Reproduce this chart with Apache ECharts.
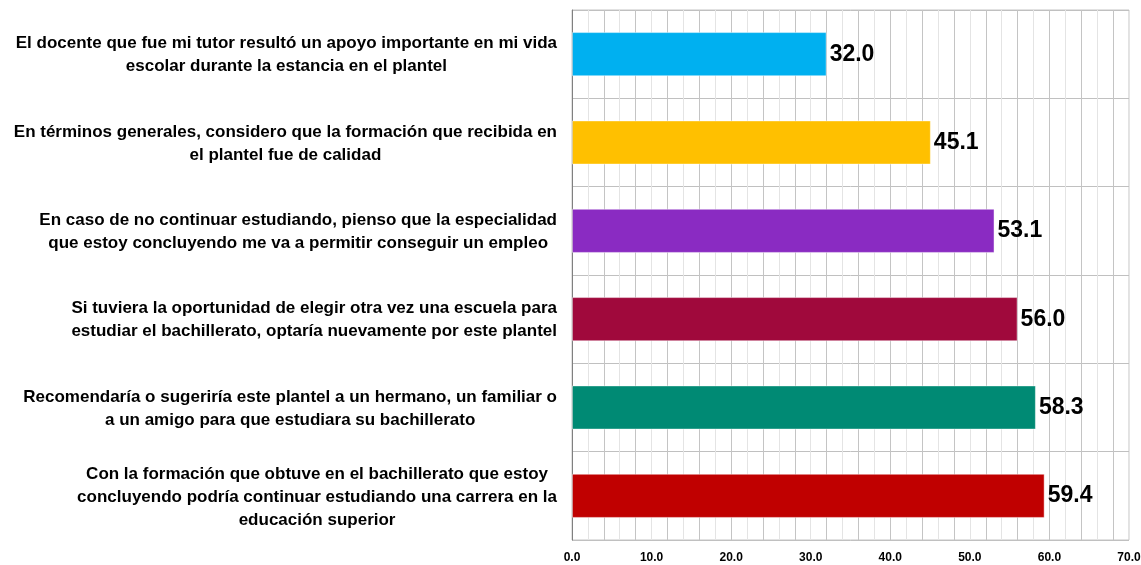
<!DOCTYPE html>
<html>
<head>
<meta charset="utf-8">
<script src="https://cdn.jsdelivr.net/npm/echarts@6/dist/echarts.min.js"></script>
<style>
  html, body { margin: 0; padding: 0; background: #fff; }
  #chart { width: 1141px; height: 565px; }
</style>
</head>
<body>
<div id="chart"></div>
<script>
const categories = [
  'El docente que fue mi tutor resultó un apoyo importante en mi vida\nescolar durante la estancia en el plantel',
  'En términos generales, considero que la formación que recibida en\nel plantel fue de calidad',
  'En caso de no continuar estudiando, pienso que la especialidad\nque estoy concluyendo me va a permitir conseguir un empleo',
  'Si tuviera la oportunidad de elegir otra vez una escuela para\nestudiar el bachillerato, optaría nuevamente por este plantel',
  'Recomendaría o sugeriría este plantel a un hermano, un familiar o\na un amigo para que estudiara su bachillerato',
  'Con la formación que obtuve en el bachillerato que estoy\nconcluyendo podría continuar estudiando una carrera en la\neducación superior'
]
const values = [32.0, 45.1, 53.1, 56.0, 58.3, 59.4]
const barColors = ['#00B0F0', '#FFC000', '#8A2BC2', '#A0093C', '#008A74', '#C00000']

const chart = echarts.init(document.getElementById('chart'))

chart.setOption({
  animation: false,
  grid: {
    left: 572, right: 12, top: 10, bottom: 25,
    outerBoundsMode: 'none',
    show: true, borderColor: '#c4c4c4', borderWidth: 1
  },
  xAxis: {
    type: 'value',
    min: 0,
    max: 70,
    interval: 2,
    axisLine: { show: false },
    axisTick: { show: false },
    splitLine: { lineStyle: { color: ['#c4c4c4', '#e4e4e4'], width: 1 } },
    axisLabel: {
      margin: 12,
      color: '#000',
      fontFamily: 'Liberation Sans',
      fontWeight: 'bold',
      fontSize: 12,
      formatter: (v) => (v % 10 === 0 ? v.toFixed(1) : '')
    }
  },
  yAxis: {
    type: 'category',
    inverse: true,
    data: categories,
    axisTick: { show: false },
    axisLine: { lineStyle: { color: '#808080', width: 1 } },
    splitLine: { show: true, lineStyle: { color: '#c0c0c0', width: 1 } },
    axisLabel: {
      margin: 15,
      formatter: (v) => v.split('\n').map(s => '{c|' + s + '}').join('\n'),
      rich: {
        c: {
          align: 'center',
          fontFamily: 'Liberation Sans',
          fontWeight: 'bold',
          fontSize: 17,
          lineHeight: 23,
          color: '#000',
          padding: [2, 0, 0, 0]
        }
      }
    }
  },
  series: [{
    type: 'bar',
    barWidth: '50%',
    data: values.map((v, i) => ({
      value: v,
      itemStyle: { color: barColors[i], borderColor: 'rgba(255,255,255,0.45)', borderWidth: 1 }
    })),
    label: {
      show: true,
      position: 'right',
      distance: 3,
      color: '#000',
      fontFamily: 'Liberation Sans',
      fontWeight: 'bold',
      fontSize: 23,
      formatter: (p) => p.value.toFixed(1)
    }
  }]
})
</script>
</body>
</html>
